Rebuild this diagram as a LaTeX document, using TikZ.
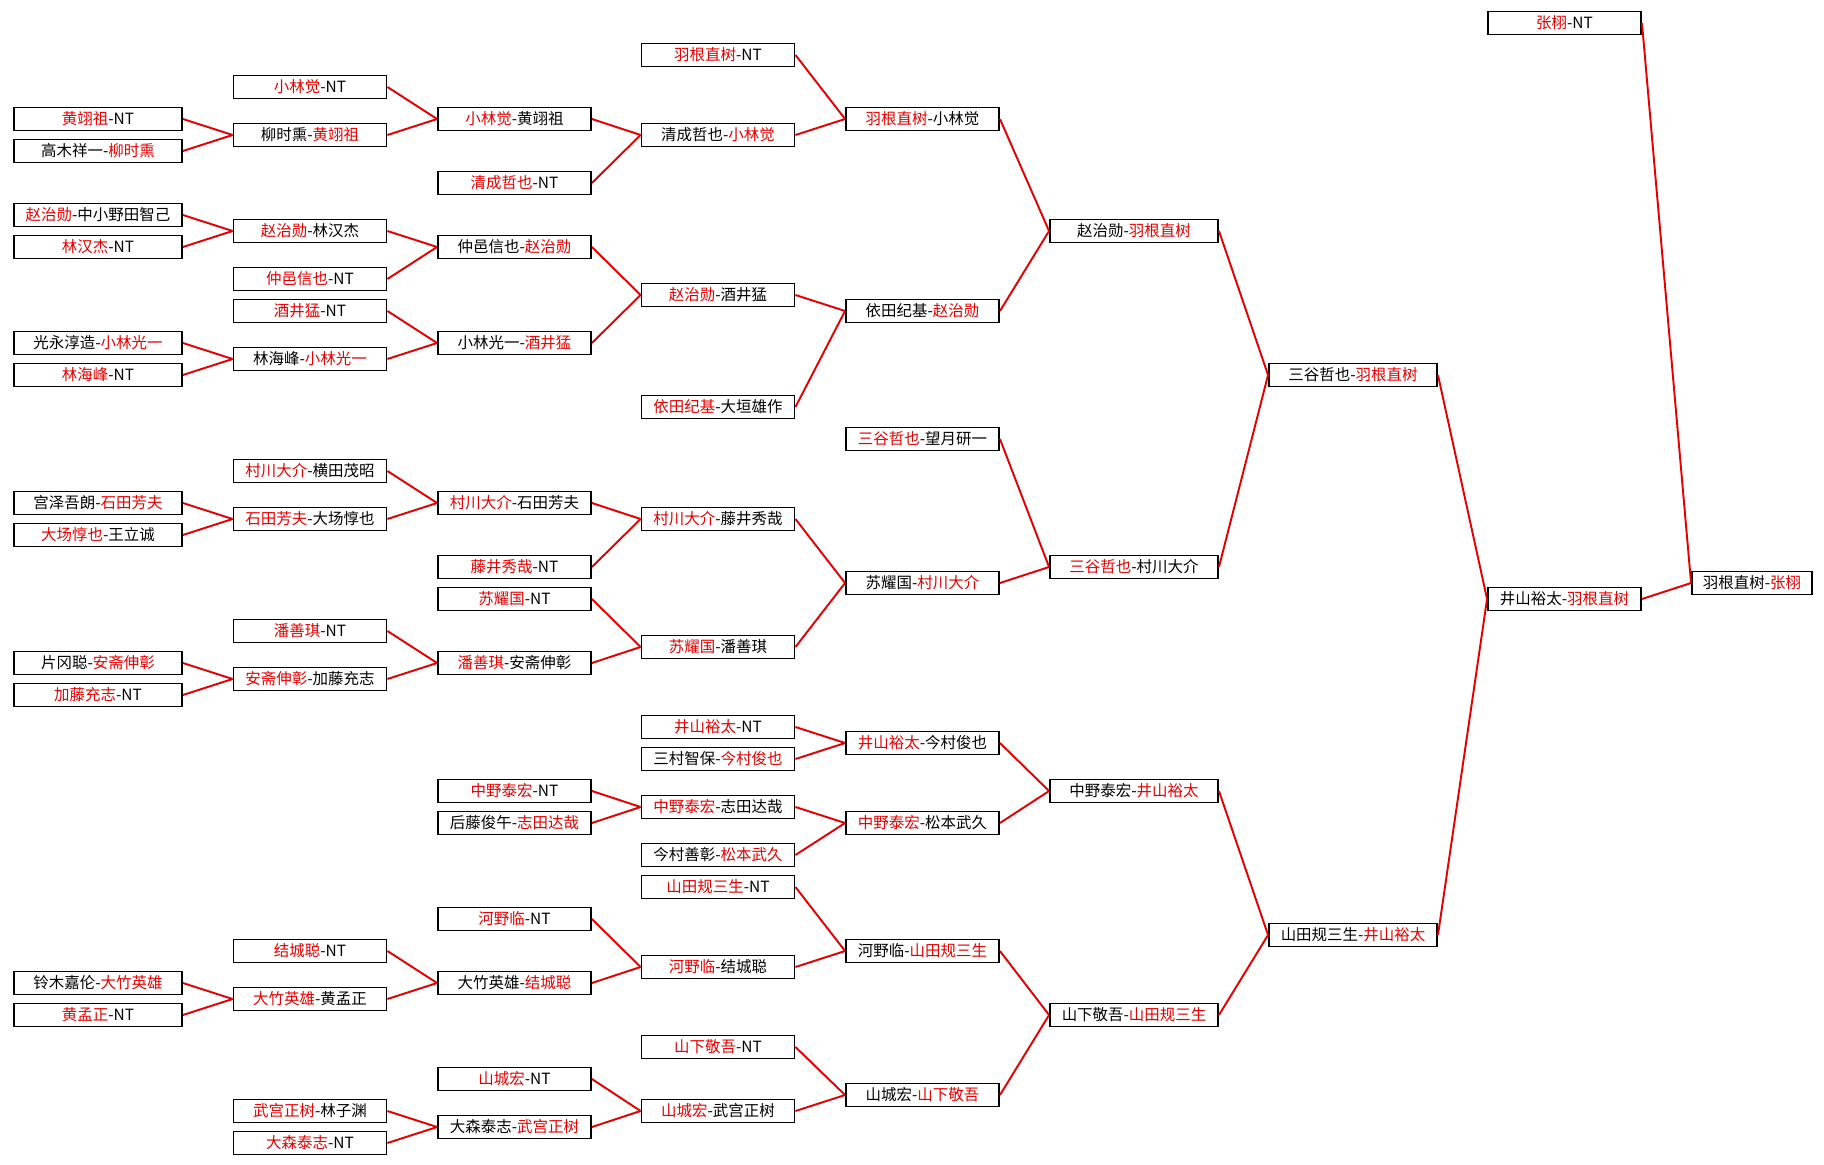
\documentclass[tikz,border=0pt]{standalone}
\usepackage{fontspec}
\setmainfont{Noto Sans CJK SC}
\usetikzlibrary{positioning}

\definecolor{winred}{RGB}{228,0,0}
\newcommand{\winner}[1]{\textcolor{winred}{#1}}

\begin{document}
\begin{tikzpicture}[x=0.02cm,y=-0.02cm,
    font=\fontsize{8.8pt}{10pt}\selectfont,
    player/.style={draw, rectangle, line width=1.1pt, fill=white,
        inner sep=0pt, minimum height=0.46cm},
    widebox/.style={player, minimum width=3.36cm},
    midbox/.style={player, minimum width=3.06cm},
    smallbox/.style={player, minimum width=2.4cm},
    link/.style={draw=winred, line width=1.1pt}]

\useasboundingbox (0,0) rectangle (1824,1165);
\fill[white] (0,0) rectangle (1824,1165);

% Round 1
\node[widebox] (c1r6) at (98,119) {\winner{黄翊祖}-NT};
\node[widebox] (c1r8) at (98,151) {高木祥一-\winner{柳时熏}};
\node[widebox] (c1r12) at (98,215) {\winner{赵治勋}-中小野田智己};
\node[widebox] (c1r14) at (98,247) {\winner{林汉杰}-NT};
\node[widebox] (c1r20) at (98,343) {光永淳造-\winner{小林光一}};
\node[widebox] (c1r22) at (98,375) {\winner{林海峰}-NT};
\node[widebox] (c1r30) at (98,503) {宫泽吾朗-\winner{石田芳夫}};
\node[widebox] (c1r32) at (98,535) {\winner{大场惇也}-王立诚};
\node[widebox] (c1r40) at (98,663) {片冈聪-\winner{安斋伸彰}};
\node[widebox] (c1r42) at (98,695) {\winner{加藤充志}-NT};
\node[widebox] (c1r60) at (98,983) {铃木嘉伦-\winner{大竹英雄}};
\node[widebox] (c1r62) at (98,1015) {\winner{黄孟正}-NT};

% Round 2
\node[midbox] (c2r4) at (310,87) {\winner{小林觉}-NT};
\node[midbox] (c2r7) at (310,135) {柳时熏-\winner{黄翊祖}};
\node[midbox] (c2r13) at (310,231) {\winner{赵治勋}-林汉杰};
\node[midbox] (c2r16) at (310,279) {\winner{仲邑信也}-NT};
\node[midbox] (c2r18) at (310,311) {\winner{酒井猛}-NT};
\node[midbox] (c2r21) at (310,359) {林海峰-\winner{小林光一}};
\node[midbox] (c2r28) at (310,471) {\winner{村川大介}-横田茂昭};
\node[midbox] (c2r31) at (310,519) {\winner{石田芳夫}-大场惇也};
\node[midbox] (c2r38) at (310,631) {\winner{潘善琪}-NT};
\node[midbox] (c2r41) at (310,679) {\winner{安斋伸彰}-加藤充志};
\node[midbox] (c2r58) at (310,951) {\winner{结城聪}-NT};
\node[midbox] (c2r61) at (310,999) {\winner{大竹英雄}-黄孟正};
\node[midbox] (c2r68) at (310,1111) {\winner{武宫正树}-林子渊};
\node[midbox] (c2r70) at (310,1143) {\winner{大森泰志}-NT};

% Round 3
\node[midbox] (c3r6) at (514.5,119) {\winner{小林觉}-黄翊祖};
\node[midbox] (c3r10) at (514.5,183) {\winner{清成哲也}-NT};
\node[midbox] (c3r14) at (514.5,247) {仲邑信也-\winner{赵治勋}};
\node[midbox] (c3r20) at (514.5,343) {小林光一-\winner{酒井猛}};
\node[midbox] (c3r30) at (514.5,503) {\winner{村川大介}-石田芳夫};
\node[midbox] (c3r34) at (514.5,567) {\winner{藤井秀哉}-NT};
\node[midbox] (c3r36) at (514.5,599) {\winner{苏耀国}-NT};
\node[midbox] (c3r40) at (514.5,663) {\winner{潘善琪}-安斋伸彰};
\node[midbox] (c3r48) at (514.5,791) {\winner{中野泰宏}-NT};
\node[midbox] (c3r50) at (514.5,823) {后藤俊午-\winner{志田达哉}};
\node[midbox] (c3r56) at (514.5,919) {\winner{河野临}-NT};
\node[midbox] (c3r60) at (514.5,983) {大竹英雄-\winner{结城聪}};
\node[midbox] (c3r66) at (514.5,1079) {\winner{山城宏}-NT};
\node[midbox] (c3r69) at (514.5,1127) {大森泰志-\winner{武宫正树}};

% Round 4
\node[midbox] (c4r2) at (718,55) {\winner{羽根直树}-NT};
\node[midbox] (c4r7) at (718,135) {清成哲也-\winner{小林觉}};
\node[midbox] (c4r17) at (718,295) {\winner{赵治勋}-酒井猛};
\node[midbox] (c4r24) at (718,407) {\winner{依田纪基}-大垣雄作};
\node[midbox] (c4r31) at (718,519) {\winner{村川大介}-藤井秀哉};
\node[midbox] (c4r39) at (718,647) {\winner{苏耀国}-潘善琪};
\node[midbox] (c4r44) at (718,727) {\winner{井山裕太}-NT};
\node[midbox] (c4r46) at (718,759) {三村智保-\winner{今村俊也}};
\node[midbox] (c4r49) at (718,807) {\winner{中野泰宏}-志田达哉};
\node[midbox] (c4r52) at (718,855) {今村善彰-\winner{松本武久}};
\node[midbox] (c4r54) at (718,887) {\winner{山田规三生}-NT};
\node[midbox] (c4r59) at (718,967) {\winner{河野临}-结城聪};
\node[midbox] (c4r64) at (718,1047) {\winner{山下敬吾}-NT};
\node[midbox] (c4r68) at (718,1111) {\winner{山城宏}-武宫正树};

% Round 5
\node[midbox] (c5r6) at (922.5,119) {\winner{羽根直树}-小林觉};
\node[midbox] (c5r18) at (922.5,311) {依田纪基-\winner{赵治勋}};
\node[midbox] (c5r26) at (922.5,439) {\winner{三谷哲也}-望月研一};
\node[midbox] (c5r35) at (922.5,583) {苏耀国-\winner{村川大介}};
\node[midbox] (c5r45) at (922.5,743) {\winner{井山裕太}-今村俊也};
\node[midbox] (c5r50) at (922.5,823) {\winner{中野泰宏}-松本武久};
\node[midbox] (c5r58) at (922.5,951) {河野临-\winner{山田规三生}};
\node[midbox] (c5r67) at (922.5,1095) {山城宏-\winner{山下敬吾}};

% Quarter finals
\node[widebox] (c6r13) at (1134,231) {赵治勋-\winner{羽根直树}};
\node[widebox] (c6r34) at (1134,567) {\winner{三谷哲也}-村川大介};
\node[widebox] (c6r48) at (1134,791) {中野泰宏-\winner{井山裕太}};
\node[widebox] (c6r62) at (1134,1015) {山下敬吾-\winner{山田规三生}};

% Semi finals
\node[widebox] (c7r22) at (1353,375) {三谷哲也-\winner{羽根直树}};
\node[widebox] (c7r57) at (1353,935) {山田规三生-\winner{井山裕太}};

% Final
\node[midbox] (c8r0) at (1564.5,23) {\winner{张栩}-NT};
\node[midbox] (c8r36) at (1564.5,599) {井山裕太-\winner{羽根直树}};
\node[smallbox] (c9r35) at (1752,583) {羽根直树-\winner{张栩}};

% Links
\draw[link] (c1r6.east) edge (c2r7.west)
    (c1r8.east) edge (c2r7.west)
    (c1r12.east) edge (c2r13.west)
    (c1r14.east) edge (c2r13.west)
    (c1r20.east) edge (c2r21.west)
    (c1r22.east) edge (c2r21.west)
    (c1r30.east) edge (c2r31.west)
    (c1r32.east) edge (c2r31.west)
    (c1r40.east) edge (c2r41.west)
    (c1r42.east) edge (c2r41.west)
    (c1r60.east) edge (c2r61.west)
    (c1r62.east) edge (c2r61.west);

\draw[link] (c2r4.east) edge (c3r6.west)
    (c2r7.east) edge (c3r6.west)
    (c2r13.east) edge (c3r14.west)
    (c2r16.east) edge (c3r14.west)
    (c2r18.east) edge (c3r20.west)
    (c2r21.east) edge (c3r20.west)
    (c2r28.east) edge (c3r30.west)
    (c2r31.east) edge (c3r30.west)
    (c2r38.east) edge (c3r40.west)
    (c2r41.east) edge (c3r40.west)
    (c2r58.east) edge (c3r60.west)
    (c2r61.east) edge (c3r60.west)
    (c2r68.east) edge (c3r69.west)
    (c2r70.east) edge (c3r69.west);

\draw[link] (c3r6.east) edge (c4r7.west)
    (c3r10.east) edge (c4r7.west)
    (c3r14.east) edge (c4r17.west)
    (c3r20.east) edge (c4r17.west)
    (c3r30.east) edge (c4r31.west)
    (c3r34.east) edge (c4r31.west)
    (c3r36.east) edge (c4r39.west)
    (c3r40.east) edge (c4r39.west)
    (c3r48.east) edge (c4r49.west)
    (c3r50.east) edge (c4r49.west)
    (c3r56.east) edge (c4r59.west)
    (c3r60.east) edge (c4r59.west)
    (c3r66.east) edge (c4r68.west)
    (c3r69.east) edge (c4r68.west);

\draw[link] (c4r2.east) edge (c5r6.west)
    (c4r7.east) edge (c5r6.west)
    (c4r17.east) edge (c5r18.west)
    (c4r24.east) edge (c5r18.west)
    (c4r31.east) edge (c5r35.west)
    (c4r39.east) edge (c5r35.west)
    (c4r44.east) edge (c5r45.west)
    (c4r46.east) edge (c5r45.west)
    (c4r49.east) edge (c5r50.west)
    (c4r52.east) edge (c5r50.west)
    (c4r54.east) edge (c5r58.west)
    (c4r59.east) edge (c5r58.west)
    (c4r64.east) edge (c5r67.west)
    (c4r68.east) edge (c5r67.west);

\draw[link] (c5r6.east) edge (c6r13.west)
    (c5r18.east) edge (c6r13.west)
    (c5r26.east) edge (c6r34.west)
    (c5r35.east) edge (c6r34.west)
    (c5r45.east) edge (c6r48.west)
    (c5r50.east) edge (c6r48.west)
    (c5r58.east) edge (c6r62.west)
    (c5r67.east) edge (c6r62.west);

\draw[link] (c6r13.east) edge (c7r22.west)
    (c6r34.east) edge (c7r22.west)
    (c6r48.east) edge (c7r57.west)
    (c6r62.east) edge (c7r57.west)
    (c7r22.east) edge (c8r36.west)
    (c7r57.east) edge (c8r36.west)
    (c8r0.east) edge (c9r35.west)
    (c8r36.east) edge (c9r35.west);

\end{tikzpicture}
\end{document}
